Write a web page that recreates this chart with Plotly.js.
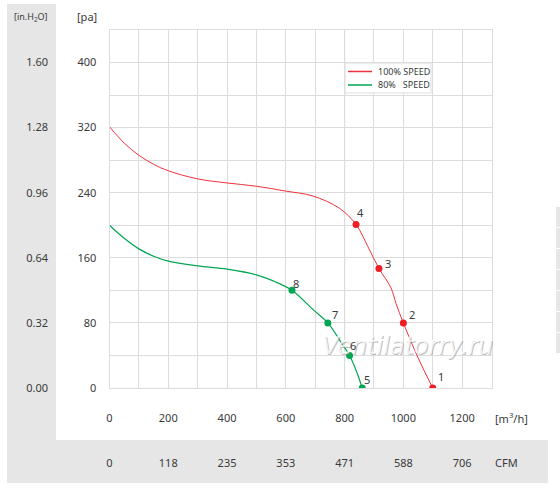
<!DOCTYPE html>
<html><head><meta charset="utf-8">
<script src="https://cdn.plot.ly/plotly-3.0.1.min.js"></script>
<style>html,body{margin:0;padding:0;background:#fff}#chart{width:560px;height:491px}</style>
</head><body><div id="chart"></div>
<script>
// ---- data ----
const flowCurve100 = [0,50,100,150,200,300,400,500,600,692,782,839,879,917,958,975,1000,1049,1100];
const pressCurve100 = [321,301,286,275,267,257,252,248,242,236,221,201,174,147,123,104,80,38,0];
const flowCurve80 = [0,50,100,150,200,300,400,500,580,621,694,743,790,817,841,860];
const pressCurve80 = [200,184,171,162,156,150,146,139,128,120,96,80,55,40,20,0];
const flowPts100 = [1100,1000,917,839];
const pressPts100 = [0,80,147,201];
const labels100 = ['1','2','3','4'];
const flowPts80 = [860,817,743,621];
const pressPts80 = [0,40,80,120];
const labels80 = ['5','6','7','8'];
const seriesNames = ['100% SPEED','80%\u00a0\u00a0 SPEED'];
const xTickVals = [0,200,400,600,800,1000,1200];
const xTickText = ['0','200','400','600','800','1000','1200'];
const cfmTickText = ['0','118','235','353','471','588','706'];
const yTickVals = [0,80,160,240,320,400];
const paTickText = ['0','80','160','240','320','400'];
const inH2OTickText = ['0.00','0.32','0.64','0.96','1.28','1.60'];

// ---- layout helpers (pixel -> paper) ----
const W = 560, H = 491;
const px = v => v / W;
const py = v => 1 - v / H;

const RED = '#f0323c', GREEN = '#00a651';
const FONT = 'Noto Sans, Open Sans, sans-serif';
const TXT = '#3a3a3a';
const GRID = '#dcdcdc';

const traces = [
  {x: flowCurve100, y: pressCurve100, mode: 'lines', name: seriesNames[0],
   line: {color: RED, width: 1, shape: 'spline', smoothing: 1}, hoverinfo: 'skip'},
  {x: flowCurve80, y: pressCurve80, mode: 'lines', name: seriesNames[1],
   line: {color: GREEN, width: 1.2, shape: 'spline', smoothing: 1}, hoverinfo: 'skip'},
  {x: flowPts100, y: pressPts100, mode: 'markers', marker: {color: '#ee1c25', size: 7}},
  {x: flowPts80, y: pressPts80, mode: 'markers', marker: {color: GREEN, size: 7}},
  {x: [null], y: [null], xaxis: 'x2', yaxis: 'y2', hoverinfo: 'skip', mode: 'markers'}
];

// point number labels (pixel offsets are styling only)
const labelShift100 = [[8,12],[9,8],[9,5],[4,12]];
const labelShift80 = [[5,9],[3,10],[7,8],[4,7]];
const pointLabels = [];
labels100.forEach((t, i) => pointLabels.push({xref: 'x', yref: 'y', x: flowPts100[i], y: pressPts100[i],
  text: t, showarrow: false, xanchor: 'center', yanchor: 'middle',
  xshift: labelShift100[i][0], yshift: labelShift100[i][1], font: {family: FONT, size: 11, color: TXT}}));
labels80.forEach((t, i) => pointLabels.push({xref: 'x', yref: 'y', x: flowPts80[i], y: pressPts80[i],
  text: t, showarrow: false, xanchor: 'center', yanchor: 'middle',
  xshift: labelShift80[i][0], yshift: labelShift80[i][1], font: {family: FONT, size: 11, color: TXT}}));

// manual legend (compact like the reference)
const legendColors = [RED, GREEN];
const legendShapes = [{type: 'rect', xref: 'paper', yref: 'paper', x0: px(345), x1: px(431), y0: py(93), y1: py(63),
  fillcolor: '#fff', line: {color: '#dedede', width: 1}}];
const legendTexts = [];
seriesNames.forEach((n, i) => {
  const yy = 71.5 + i * 13.5;
  legendShapes.push({type: 'line', xref: 'paper', yref: 'paper', x0: px(348), x1: px(372), y0: py(yy), y1: py(yy),
    line: {color: legendColors[i], width: 1.5}});
  legendTexts.push({xref: 'paper', yref: 'paper', x: px(376), y: py(yy), text: n, showarrow: false,
    xanchor: 'left', yanchor: 'middle', font: {family: FONT, size: 9, color: TXT}});
});

const boxes = [];
for (let i = 0; i < 7; i++) {
  boxes.push({type: 'rect', xref: 'paper', yref: 'paper', x0: px(556), x1: px(561),
    y0: py(207 + i * 21 + 20), y1: py(207 + i * 21), fillcolor: '#e6e6e6', line: {width: 0}, layer: 'below'});
}

const ann = (x, y, text, size, extra) => Object.assign({xref: 'paper', yref: 'paper', x: px(x), y: py(y), text,
  showarrow: false, xanchor: 'center', yanchor: 'middle', font: {family: FONT, size, color: TXT}}, extra || {});

const layout = {
  width: W, height: H,
  margin: {l: 0, r: 0, t: 0, b: 0},
  paper_bgcolor: '#fff', plot_bgcolor: '#fff',
  font: {family: FONT, size: 11, color: TXT},
  showlegend: false,
  xaxis: {domain: [px(109.5), px(491.5)], range: [0, 1300], tickmode: 'array',
    tickvals: xTickVals, ticktext: xTickText, showgrid: true, gridcolor: GRID, gridwidth: 1,
    minor: {tickmode: 'linear', tick0: 0, dtick: 100, showgrid: true, gridcolor: GRID, gridwidth: 1, ticks: ''},
    zeroline: false, showline: true, mirror: true, linecolor: GRID, ticks: '',
    ticklabelstandoff: 20, tickfont: {family: FONT, size: 11, color: TXT}, fixedrange: true},
  yaxis: {domain: [py(388), py(30)], range: [0, 440], tickmode: 'array',
    tickvals: yTickVals, ticktext: paTickText, showgrid: true, gridcolor: GRID, gridwidth: 1,
    minor: {tickmode: 'linear', tick0: 0, dtick: 40, showgrid: true, gridcolor: GRID, gridwidth: 1, ticks: ''},
    zeroline: false, showline: true, mirror: true, linecolor: GRID, ticks: '',
    ticklabelstandoff: 10, tickfont: {family: FONT, size: 11, color: TXT}, fixedrange: true},
  xaxis2: {overlaying: 'x', matches: 'x', anchor: 'free', position: py(455), side: 'bottom',
    tickmode: 'array', tickvals: xTickVals, ticktext: cfmTickText, showgrid: false,
    zeroline: false, showline: false, ticks: '', ticklabelstandoff: 0,
    tickfont: {family: FONT, size: 11, color: TXT}},
  yaxis2: {overlaying: 'y', matches: 'y', anchor: 'free', position: px(48), side: 'left',
    tickmode: 'array', tickvals: yTickVals, ticktext: inH2OTickText, showgrid: false,
    zeroline: false, showline: false, ticks: '', ticklabelstandoff: 0,
    tickfont: {family: FONT, size: 11, color: TXT}},
  shapes: [
    {type: 'rect', xref: 'paper', yref: 'paper', x0: px(7), x1: px(56), y0: py(483), y1: py(4),
     fillcolor: '#e6e6e6', line: {width: 0}, layer: 'below'},
    {type: 'rect', xref: 'paper', yref: 'paper', x0: px(7), x1: px(548), y0: py(483), y1: py(440),
     fillcolor: '#e6e6e6', line: {width: 0}, layer: 'below'},
    {type: 'line', xref: 'x', yref: 'paper', x0: 800, x1: 800, y0: py(388), y1: py(30),
     line: {color: '#bdbdbd', width: 1}, layer: 'below'}
  ].concat(boxes, legendShapes),
  annotations: [
    ann(31, 17, '[in.H<sub>2</sub>O]', 9),
    ann(87, 17, '[pa]', 11),
    ann(511, 418, '[m<sup>3</sup>/h]', 11),
    ann(506, 462, 'CFM', 11),
    ann(408, 347, '<i>Ventilatorry.ru</i>', 24, {font: {family: 'DejaVu Sans', size: 24, color: 'rgba(140,140,140,0.55)'}}),
    ann(407, 346, '<i>Ventilatorry.ru</i>', 24, {font: {family: 'DejaVu Sans', size: 24, color: 'rgba(255,255,255,0.8)'}})
  ].concat(pointLabels, legendTexts)
};

Plotly.newPlot('chart', traces, layout, {staticPlot: true, displayModeBar: false});
</script></body></html>
